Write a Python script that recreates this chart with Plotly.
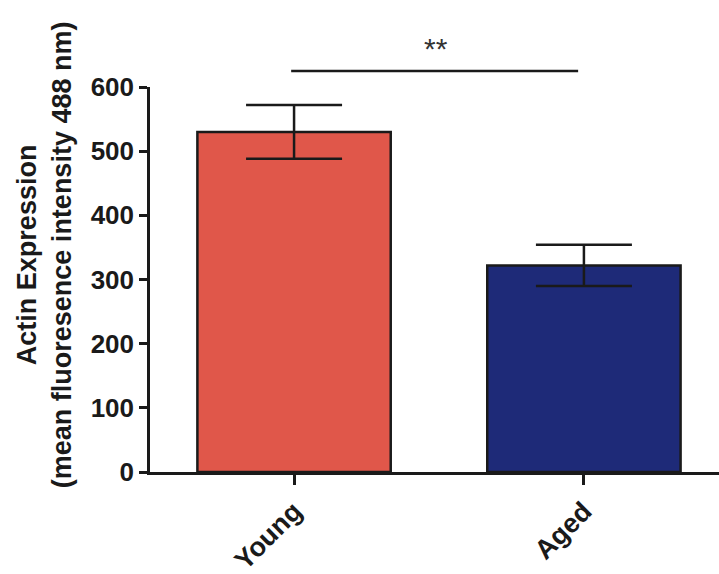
import plotly.graph_objects as go

categories = ["Young", "Aged"]
means = [530, 322]
errors = [42, 32]
colors = ["#E0574A", "#1E2A78"]
y_ticks = [0, 100, 200, 300, 400, 500, 600]
y_max = 600
sig_y = 625
sig_label = "**"

FONT = "Liberation Sans, Arial"

fig = go.Figure()
fig.add_trace(go.Bar(
    x=categories, y=means,
    marker=dict(color=colors, line=dict(color="#1a1a1a", width=2.5)),
    width=0.667,
    error_y=dict(type="data", array=errors, visible=True, color="#1a1a1a", thickness=2.5, width=48),
))

fig.add_shape(type="line", xref="x", yref="paper", x0=-0.01, x1=0.98,
              y0=sig_y / y_max, y1=sig_y / y_max, line=dict(color="#1a1a1a", width=2.5))
fig.add_annotation(xref="x", yref="paper", x=0.49, y=sig_y / y_max,
                   text=sig_label, showarrow=False, yanchor="bottom", yshift=4,
                   font=dict(family=FONT, size=30, color="#333333"))

fig.add_annotation(xref="paper", yref="paper", x=-0.185, y=0.565, textangle=-90,
                   text="<b>Actin Expression<br>(mean fluoresence intensity 488 nm)</b>",
                   showarrow=False, xanchor="center", yanchor="middle",
                   font=dict(family=FONT, size=27, color="#1a1a1a"))

fig.update_layout(
    width=719, height=574,
    margin=dict(l=150, r=0, t=87, b=102),
    plot_bgcolor="white", paper_bgcolor="white",
    showlegend=False,
    font=dict(family=FONT, color="#1a1a1a"),
    xaxis=dict(range=[-0.497, 1.466], showline=True, linecolor="#1a1a1a", linewidth=2.5,
               ticks="outside", ticklen=10, tickwidth=2.5, tickcolor="#1a1a1a",
               tickangle=-45, tickfont=dict(size=27, family=FONT),
               showgrid=False, zeroline=False,
               tickvals=categories, ticktext=["<b>%s</b>" % c for c in categories]),
    yaxis=dict(range=[0, y_max], showline=True, linecolor="#1a1a1a", linewidth=2.5,
               ticks="outside", ticklen=8, tickwidth=2.5, tickcolor="#1a1a1a",
               tickvals=y_ticks, ticktext=["<b>%d</b>" % v for v in y_ticks],
               tickfont=dict(size=26, family=FONT),
               showgrid=False, zeroline=False),
)
fig.write_html("out.html")
